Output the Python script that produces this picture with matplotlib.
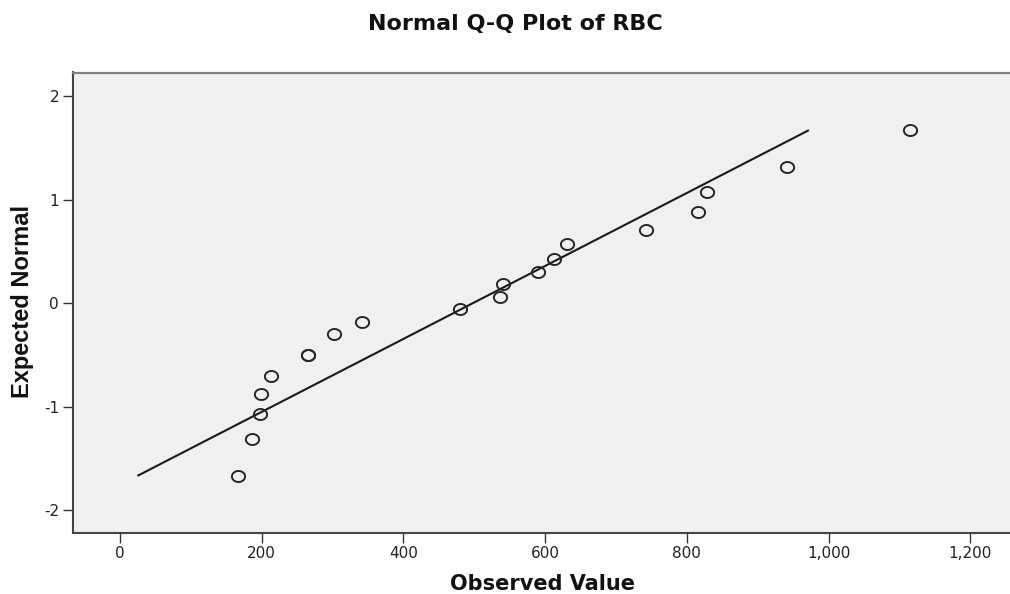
import numpy as np
import matplotlib
matplotlib.use("Agg")
import matplotlib.pyplot as plt
from matplotlib.path import Path

# Data
observed = [167, 186, 197, 199, 213, 265, 265, 302, 341, 480,
            536, 541, 590, 613, 631, 742, 815, 829, 941, 1115]
expected = [-1.67, -1.31, -1.07, -0.88, -0.71, -0.50, -0.50, -0.30, -0.18, -0.06,
            0.06, 0.18, 0.30, 0.43, 0.57, 0.71, 0.88, 1.07, 1.31, 1.67]
x_ticks = [0, 200, 400, 600, 800, 1000, 1200]
x_tick_labels = ["0", "200", "400", "600", "800", "1,000", "1,200"]
y_ticks = [-2, -1, 0, 1, 2]
y_tick_labels = ["-2", "-1", "0", "1", "2"]

title = "Normal Q-Q Plot of RBC"
xlabel = "Observed Value"
ylabel = "Expected Normal"

W, H = 1010, 594
fig = plt.figure(figsize=(W / 100, H / 100), dpi=100)
fig.patch.set_facecolor("white")

ax = fig.add_axes([73 / W, 1 - 533 / H, (W - 73) / W, (533 - 72.5) / H])
ax.set_facecolor("#f0f0f0")

# Reference line: x = mean + sd * z
obs = np.array(observed, dtype=float)
mu, sd = obs.mean(), obs.std(ddof=1)
z_line = np.array([min(expected), max(expected)])
ax.plot(mu + sd * z_line, z_line, color="#1a1a1a", lw=1.5, zorder=2,
        solid_capstyle="butt")

# slightly wide open-ellipse marker (the reference is horizontally stretched)
t = np.linspace(0, 2 * np.pi, 61)
ell = Path(np.column_stack([1.2 * np.cos(t), np.sin(t)]), closed=True)
ax.plot(observed, expected, linestyle="none", marker=ell, markersize=9.5,
        markerfacecolor="none", markeredgecolor="#262626", markeredgewidth=1.4,
        zorder=3)

ax.set_xlim(-66.3, 1256)
ax.set_ylim(-2.222, 2.227)

ax.set_xticks(x_ticks)
ax.set_xticklabels(x_tick_labels)
ax.set_yticks(y_ticks)
ax.set_yticklabels(y_tick_labels)
ax.tick_params(axis="both", direction="out", length=7, width=1.0,
               color="#333333", labelcolor="#222222", labelsize=11)
ax.tick_params(axis="x", pad=2)
ax.tick_params(axis="y", pad=3)
for lab in ax.get_xticklabels() + ax.get_yticklabels():
    lab.set_family("DejaVu Sans")

for s in ["left", "bottom"]:
    ax.spines[s].set_color("#444444")
    ax.spines[s].set_linewidth(1.5)
ax.spines["top"].set_color("#808080")
ax.spines["top"].set_linewidth(1.6)
ax.spines["right"].set_visible(False)

fig.text(515 / W, 1 - 24 / H, title, ha="center", va="center",
         fontsize=16, fontweight="bold", family="DejaVu Sans", color="#111111")
fig.text(542 / W, 1 - 584 / H, xlabel, ha="center", va="center",
         fontsize=15, fontweight="bold", family="DejaVu Sans", color="#111111")
fig.text(23 / W, 1 - 302 / H, ylabel, ha="center", va="center", rotation=90,
         fontsize=17, fontweight="bold",
         family=["Liberation Sans Narrow", "Liberation Sans"], color="#111111")

fig.savefig("out.png", dpi=100)
